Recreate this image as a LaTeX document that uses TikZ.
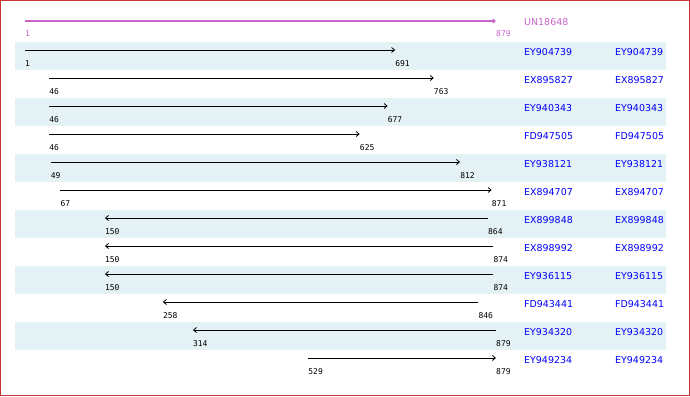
\documentclass[tikz,border=0pt]{standalone}
\usepackage{fontspec}
\usepackage{tikz}
\usetikzlibrary{arrows.meta}
\newfontfamily\accfont{DejaVu Sans}
\newfontfamily\numfont{DejaVu Sans Mono}
\definecolor{framered}{RGB}{200,50,50}
\definecolor{band}{RGB}{228,241,245}
\definecolor{query}{RGB}{200,100,200}
\definecolor{acc}{RGB}{0,0,255}
\newcommand{\seqx}[1]{25+(#1-1)*0.53645}
\tikzset{
  num/.style={anchor=west,inner sep=0pt,font=\numfont\fontsize{8}{9}\selectfont},
  accname/.style={anchor=west,inner sep=0pt,text=acc,font=\accfont\fontsize{9.5}{10}\selectfont},
  hit/.style={line width=0.8bp,-{Straight Barb[length=3bp,width=5bp]}},
}

\begin{document}
\begin{tikzpicture}[x=1bp,y=-1bp]
	\useasboundingbox (0,0) rectangle (690,396);
	\draw[framered,line width=1.2bp] (0.6,0.6) rectangle (689.4,395.4);
	\foreach \r in {1,3,5,7,9,11}
		\fill[band] (15,{42+28*(\r-1)}) rectangle (666,{70+28*(\r-1)});
	
	\coordinate(s0) at ({\seqx{1}},21);
	\coordinate(e0) at ({\seqx{879}},21);
	\draw[query,line width=1.6bp,-{Straight Barb[length=2.5bp,width=4bp,line width=1bp]}] (s0)--(e0);
	\node[num,text=query](ls0) at ({\seqx{1}},34){1};
	\node[num,text=query](le0) at ({\seqx{879}},34){879};
	\node[accname,text=query](UN18648) at (524,22){UN18648};
	
	\coordinate(s1) at ({\seqx{1}},50);
	\coordinate(e1) at ({\seqx{691}},50);
	\node[num](ls1) at ({\seqx{1}},64){1};
	\node[num](le1) at ({\seqx{691}},64){691};
	\node[accname](EY904739) at (524,52){EY904739};
	\node[accname](EY904739r) at (615,52){EY904739};
	
	\coordinate(s2) at ({\seqx{46}},78);
	\coordinate(e2) at ({\seqx{763}},78);
	\node[num](ls2) at ({\seqx{46}},92){46};
	\node[num](le2) at ({\seqx{763}},92){763};
	\node[accname](EX895827) at (524,80){EX895827};
	\node[accname](EX895827r) at (615,80){EX895827};
	
	\coordinate(s3) at ({\seqx{46}},106);
	\coordinate(e3) at ({\seqx{677}},106);
	\node[num](ls3) at ({\seqx{46}},120){46};
	\node[num](le3) at ({\seqx{677}},120){677};
	\node[accname](EY940343) at (524,108){EY940343};
	\node[accname](EY940343r) at (615,108){EY940343};
	
	\coordinate(s4) at ({\seqx{46}},134);
	\coordinate(e4) at ({\seqx{625}},134);
	\node[num](ls4) at ({\seqx{46}},148){46};
	\node[num](le4) at ({\seqx{625}},148){625};
	\node[accname](FD947505) at (524,136){FD947505};
	\node[accname](FD947505r) at (615,136){FD947505};
	
	\coordinate(s5) at ({\seqx{49}},162);
	\coordinate(e5) at ({\seqx{812}},162);
	\node[num](ls5) at ({\seqx{49}},176){49};
	\node[num](le5) at ({\seqx{812}},176){812};
	\node[accname](EY938121) at (524,164){EY938121};
	\node[accname](EY938121r) at (615,164){EY938121};
	
	\coordinate(s6) at ({\seqx{67}},190);
	\coordinate(e6) at ({\seqx{871}},190);
	\node[num](ls6) at ({\seqx{67}},204){67};
	\node[num](le6) at ({\seqx{871}},204){871};
	\node[accname](EX894707) at (524,192){EX894707};
	\node[accname](EX894707r) at (615,192){EX894707};
	
	\coordinate(s7) at ({\seqx{150}},218);
	\coordinate(e7) at ({\seqx{864}},218);
	\node[num](ls7) at ({\seqx{150}},232){150};
	\node[num](le7) at ({\seqx{864}},232){864};
	\node[accname](EX899848) at (524,220){EX899848};
	\node[accname](EX899848r) at (615,220){EX899848};
	
	\coordinate(s8) at ({\seqx{150}},246);
	\coordinate(e8) at ({\seqx{874}},246);
	\node[num](ls8) at ({\seqx{150}},260){150};
	\node[num](le8) at ({\seqx{874}},260){874};
	\node[accname](EX898992) at (524,248){EX898992};
	\node[accname](EX898992r) at (615,248){EX898992};
	
	\coordinate(s9) at ({\seqx{150}},274);
	\coordinate(e9) at ({\seqx{874}},274);
	\node[num](ls9) at ({\seqx{150}},288){150};
	\node[num](le9) at ({\seqx{874}},288){874};
	\node[accname](EY936115) at (524,276){EY936115};
	\node[accname](EY936115r) at (615,276){EY936115};
	
	\coordinate(s10) at ({\seqx{258}},302);
	\coordinate(e10) at ({\seqx{846}},302);
	\node[num](ls10) at ({\seqx{258}},316){258};
	\node[num](le10) at ({\seqx{846}},316){846};
	\node[accname](FD943441) at (524,304){FD943441};
	\node[accname](FD943441r) at (615,304){FD943441};
	
	\coordinate(s11) at ({\seqx{314}},330);
	\coordinate(e11) at ({\seqx{879}},330);
	\node[num](ls11) at ({\seqx{314}},344){314};
	\node[num](le11) at ({\seqx{879}},344){879};
	\node[accname](EY934320) at (524,332){EY934320};
	\node[accname](EY934320r) at (615,332){EY934320};
	
	\coordinate(s12) at ({\seqx{529}},358);
	\coordinate(e12) at ({\seqx{879}},358);
	\node[num](ls12) at ({\seqx{529}},372){529};
	\node[num](le12) at ({\seqx{879}},372){879};
	\node[accname](EY949234) at (524,360){EY949234};
	\node[accname](EY949234r) at (615,360){EY949234};
	
	\draw[hit] (s1)--(e1);
	\draw[hit] (s2)--(e2);
	\draw[hit] (s3)--(e3);
	\draw[hit] (s4)--(e4);
	\draw[hit] (s5)--(e5);
	\draw[hit] (s6)--(e6);
	\draw[hit] (e7)--(s7);
	\draw[hit] (e8)--(s8);
	\draw[hit] (e9)--(s9);
	\draw[hit] (e10)--(s10);
	\draw[hit] (e11)--(s11);
	\draw[hit] (s12)--(e12);
\end{tikzpicture}
\end{document}
